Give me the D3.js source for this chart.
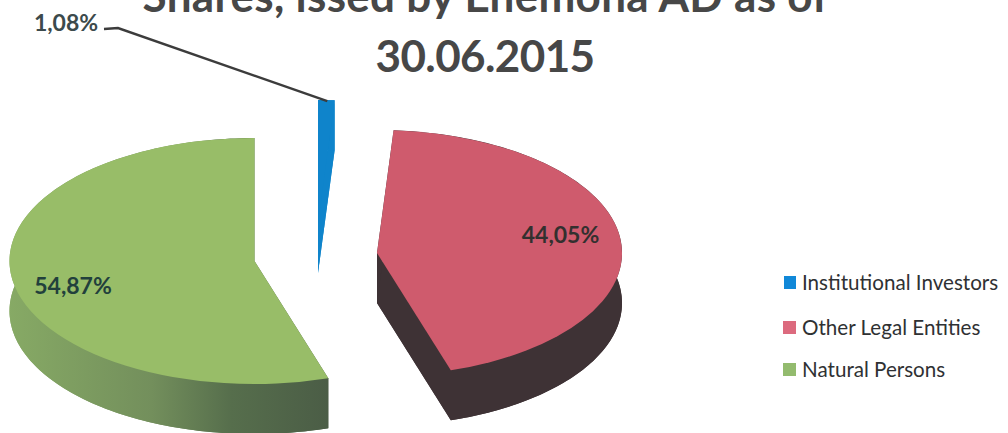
<!DOCTYPE html>
<html><head><meta charset="utf-8">
<script src="https://cdn.jsdelivr.net/npm/d3@7"></script>
<style>html,body{margin:0;padding:0;background:#fff;overflow:hidden}svg{display:block}text{font-family:Lato,"Open Sans",sans-serif}</style>
</head><body><svg id="c" width="1008" height="433"></svg>
<script>
const categories = ["Institutional Investors","Other Legal Entities","Natural Persons"];
const values = [1.08,44.05,54.87];
const valueLabels = ["1,08%","44,05%","54,87%"];
const titleLines = ["Shares, issed by Enemona AD as of","30.06.2015"];
const topColors = ["#0f84cb","#cf5b6d","#98bd68"];
const legendColors = ["#1188d8","#dc6a7e","#93bb6e"];
const sideColors = ["#0f84cb","#3e3235","url(#greenSide)"];
const centers = [[318,223],[377,253],[254.5,261]];
const labelPos = [[66,31],[560.5,243],[73,294]];
const labelColors = ["#3c4a4c","#33302f","#22403c"];
const legendY = [283,328,370];
const RX=245, RY=123, DEPTH=50;

const svg=d3.select("#c");
const defs=svg.append("defs");
const g=defs.append("linearGradient").attr("id","greenSide").attr("gradientUnits","userSpaceOnUse")
  .attr("x1",-247).attr("x2",73).attr("y1",0).attr("y2",0);
[[0,"#87aa65"],[.45,"#738f5c"],[.7,"#566e4c"],[1,"#4b5d46"]].forEach(s=>g.append("stop").attr("offset",s[0]).attr("stop-color",s[1]));

const pie=d3.pie().sort(null).value(d=>d)(values);
const arc=d3.arc().innerRadius(0).outerRadius(RX);
const pt=(a,dy=0)=>[RX*Math.sin(a),-RY*Math.cos(a)+dy];
const line=d3.line();

pie.forEach((p,i)=>{
  const s=svg.append("g").attr("transform",`translate(${centers[i]})`);
  const n=Math.max(2,Math.ceil((p.endAngle-p.startAngle)/0.02));
  const as=d3.range(n+1).map(k=>p.startAngle+(p.endAngle-p.startAngle)*k/n);
  const top=as.map(a=>pt(a)), bot=as.map(a=>pt(a,DEPTH));
  const side=s.append("g").attr("fill",sideColors[i]);
  side.append("path").attr("d",line(top.concat(bot.slice().reverse()))+"Z");
  [p.startAngle,p.endAngle].forEach(a=>{
    side.append("path").attr("d",line([[0,0],pt(a),pt(a,DEPTH),[0,DEPTH]])+"Z");
  });
  side.append("path").attr("transform",`translate(0,${DEPTH}) scale(1,${RY/RX})`).attr("d",arc(p));
  s.append("path").attr("transform",`scale(1,${RY/RX})`).attr("d",arc(p)).attr("fill",topColors[i]);
});

// leader line for smallest slice
const tip=pt(pie[0].startAngle+(pie[0].endAngle-pie[0].startAngle)/2);
svg.append("path").attr("d",line([[104,29],[118,28],[centers[0][0]+tip[0]+1,centers[0][1]+tip[1]+1]]))
  .attr("fill","none").attr("stroke","#3c3c3c").attr("stroke-width",2.4);

valueLabels.forEach((t,i)=>svg.append("text").attr("x",labelPos[i][0]).attr("y",labelPos[i][1])
  .attr("text-anchor","middle").attr("font-size",23).attr("font-weight",700).attr("fill",labelColors[i]).text(t));

svg.selectAll("text.t").data(titleLines).join("text").attr("class","t")
  .attr("x",(d,i)=>i==0?485.5:485).attr("y",(d,i)=>i==0?12:72).attr("text-anchor","middle")
  .attr("letter-spacing",(d,i)=>i==0?0.3:-0.6)
  .attr("font-size",44).attr("font-weight",700).attr("fill","#474747").text(d=>d);

categories.forEach((c,i)=>{
  svg.append("rect").attr("x",i==0?784:783).attr("y",legendY[i]-7).attr("width",i==0?12:13).attr("height",13).attr("fill",legendColors[i]);
  svg.append("text").attr("x",802).attr("y",legendY[i]+7).attr("font-size",20.6).attr("fill","#2f3133").text(c);
});
</script></body></html>
